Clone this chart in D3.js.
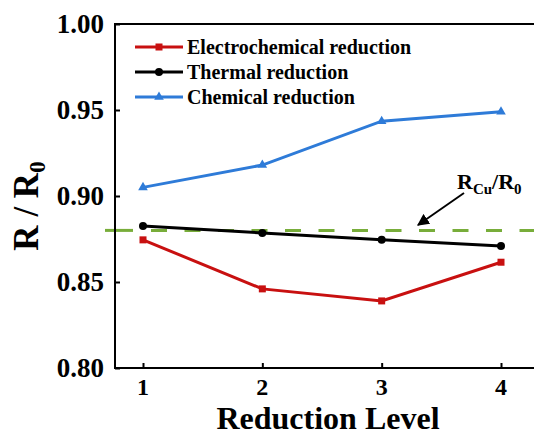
<!DOCTYPE html>
<html><head><meta charset="utf-8">
<script src="https://cdn.jsdelivr.net/npm/d3@7"></script>
<style>
html,body{margin:0;padding:0;background:#fff;}
svg{display:block;}
text{font-family:"Liberation Serif","Times New Roman",serif;font-weight:bold;}
</style></head>
<body>
<svg id="chart" width="534" height="436"></svg>
<script>
const levels = [1, 2, 3, 4];
const electrochemical = [0.8745, 0.846, 0.839, 0.8615];
const thermal = [0.8825, 0.8785, 0.8745, 0.871];
const chemical = [0.905, 0.918, 0.9435, 0.949];
const seriesNames = ["Electrochemical reduction", "Thermal reduction", "Chemical reduction"];
const seriesColors = ["#C81010", "#000000", "#2E7BD8"];
const seriesMarkers = ["square", "circle", "triangle"];
const refValue = 0.88;
const yTicks = [0.80, 0.85, 0.90, 0.95, 1.00];
const xTicks = [1, 2, 3, 4];

(function () {
const svg = d3.select("#chart");
const x = d3.scaleLinear().domain([1, 4]).range([143, 501]);
const y = d3.scaleLinear().domain([0.80, 1.00]).range([368, 24]);
const pL = 115, pR = 534, pT = 24, pB = 368;

// dashed reference line
const refY = y(refValue);
svg.append("line")
  .attr("x1", 105).attr("x2", 133)
  .attr("y1", refY).attr("y2", refY)
  .attr("stroke", "#78AD3A").attr("stroke-width", 3);
svg.append("line")
  .attr("x1", 151).attr("x2", pR)
  .attr("y1", refY).attr("y2", refY)
  .attr("stroke", "#78AD3A").attr("stroke-width", 3)
  .attr("stroke-dasharray", "16,17.5");

// frame top
svg.append("line").attr("x1", pL).attr("x2", pR).attr("y1", pT).attr("y2", pT)
  .attr("stroke", "#000").attr("stroke-width", 2);

// y axis
const yAxis = d3.axisRight(y).tickValues(yTicks).tickSize(5).tickFormat("");
const gy = svg.append("g").attr("transform", `translate(${pL},0)`).call(yAxis);
gy.select(".domain").remove();
gy.selectAll(".tick line").attr("stroke", "#000").attr("stroke-width", 2);
svg.append("line").attr("x1", pL).attr("x2", pL).attr("y1", pT - 1).attr("y2", pB + 1)
  .attr("stroke", "#000").attr("stroke-width", 2);
svg.selectAll(".ylab").data(yTicks).enter().append("text")
  .attr("class", "ylab")
  .attr("x", 104).attr("y", d => y(d))
  .attr("dy", "0.35em")
  .attr("text-anchor", "end")
  .attr("font-size", 27)
  .text(d => d3.format(".2f")(d));

// x axis
const xAxis = d3.axisTop(x).tickValues(xTicks).tickSize(5).tickFormat("");
const gx = svg.append("g").attr("transform", `translate(0,${pB})`).call(xAxis);
gx.select(".domain").remove();
gx.selectAll(".tick line").attr("stroke", "#000").attr("stroke-width", 2);
svg.append("line").attr("x1", pL - 1).attr("x2", pR).attr("y1", pB).attr("y2", pB)
  .attr("stroke", "#000").attr("stroke-width", 2);
svg.selectAll(".xlab").data(xTicks).enter().append("text")
  .attr("class", "xlab")
  .attr("x", d => x(d)).attr("y", 395)
  .attr("text-anchor", "middle")
  .attr("font-size", 24)
  .text(d => d);

// axis titles
svg.append("text").attr("x", 328).attr("y", 429).attr("text-anchor", "middle")
  .attr("font-size", 32).text("Reduction Level");
const yt = svg.append("text").attr("transform", "translate(38,206) rotate(-90)")
  .attr("text-anchor", "middle").attr("font-size", 35);
yt.append("tspan").text("R / R");
yt.append("tspan").attr("font-size", 23).attr("dy", 7).text("0");

// series
const allSeries = [electrochemical, thermal, chemical];
const line = d3.line().x((d, i) => x(levels[i])).y(d => y(d));
function marker(g, type, cx, cy, color) {
  if (type === "square") {
    g.append("rect").attr("x", cx - 3.5).attr("y", cy - 3.5).attr("width", 7).attr("height", 7).attr("fill", color);
  } else if (type === "circle") {
    g.append("circle").attr("cx", cx).attr("cy", cy).attr("r", 4).attr("fill", color);
  } else {
    g.append("path").attr("d", d3.symbol(d3.symbolTriangle, 40)()).attr("transform", `translate(${cx},${cy})`).attr("fill", color);
  }
}
allSeries.forEach((vals, si) => {
  const g = svg.append("g");
  g.append("path").datum(vals).attr("d", line).attr("fill", "none")
    .attr("stroke", seriesColors[si]).attr("stroke-width", 3);
  vals.forEach((v, i) => marker(g, seriesMarkers[si], x(levels[i]), y(v), seriesColors[si]));
});

// legend
const legRows = [47, 72, 97];
seriesNames.forEach((name, i) => {
  const g = svg.append("g");
  g.append("line").attr("x1", 135).attr("x2", 183).attr("y1", legRows[i]).attr("y2", legRows[i])
    .attr("stroke", seriesColors[i]).attr("stroke-width", 3);
  marker(g, seriesMarkers[i], 159, legRows[i], seriesColors[i]);
  g.append("text").attr("x", 187).attr("y", legRows[i]).attr("dy", "0.35em")
    .attr("font-size", 20).text(name);
});

// annotation
const defs = svg.append("defs");
defs.append("marker").attr("id", "arr").attr("viewBox", "0 0 10 10").attr("refX", 9).attr("refY", 5)
  .attr("markerWidth", 6).attr("markerHeight", 6).attr("orient", "auto")
  .append("path").attr("d", "M0,0 L10,5 L0,10 Z").attr("fill", "#000");
svg.append("line").attr("x1", 464).attr("y1", 193).attr("x2", 418).attr("y2", 225)
  .attr("stroke", "#000").attr("stroke-width", 2).attr("marker-end", "url(#arr)");
const at = svg.append("text").attr("x", 457).attr("y", 189).attr("font-size", 22);
at.append("tspan").text("R");
at.append("tspan").attr("font-size", 15).attr("dy", 5).text("Cu");
at.append("tspan").attr("dy", -5).text("/R");
at.append("tspan").attr("font-size", 15).attr("dy", 5).text("0");
})();
</script>
</body></html>
